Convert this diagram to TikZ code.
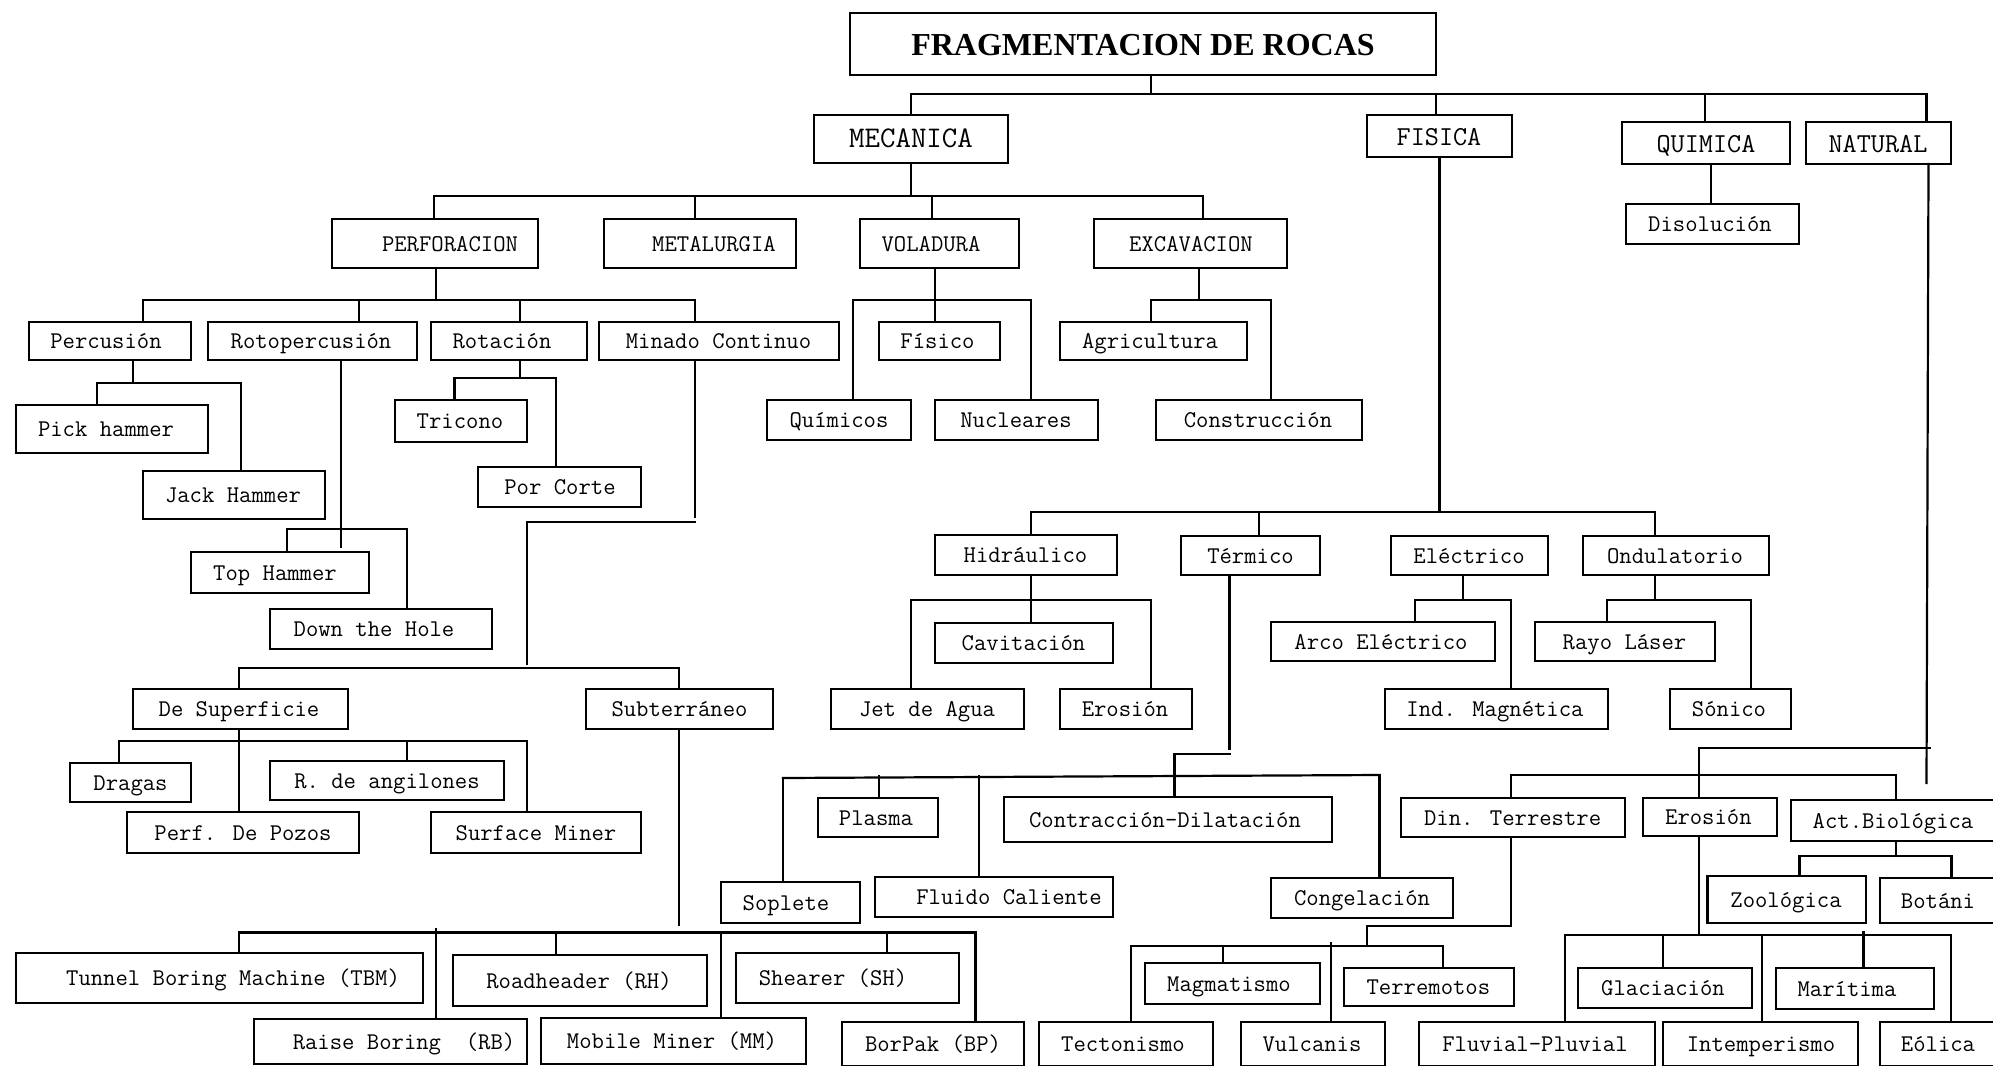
\documentclass[tikz,border=0pt]{standalone}
\usepackage{fontspec}
\newfontfamily\tserif{Liberation Serif}
\tikzset{
  box/.style={draw, line width=1.1pt, rectangle, inner sep=0pt, outer sep=0pt},
  ln/.style={line width=1.1pt, line cap=rect},
  f/.style={font={\ttfamily\fontsize{12pt}{14pt}\selectfont}, inner sep=0pt, anchor=base, yshift=-3.9pt},
  fm/.style={font={\ttfamily\fontsize{13.7pt}{15pt}\selectfont}, inner sep=0pt, anchor=base, yshift=-4.5pt},
  fl/.style={font={\ttfamily\fontsize{15pt}{17pt}\selectfont}, inner sep=0pt, anchor=base, yshift=-4.3pt},
  ft/.style={font={\tserif\bfseries\fontsize{16pt}{18pt}\selectfont}, inner sep=0pt, anchor=base, yshift=-5.5pt},
}
% name, x1, y1, x2, y2, text x, style, text
\newcommand\bx[8]{%
  \node[box, minimum width={(#4-#2)*0.5pt}, minimum height={(#5-#3)*0.5pt}] (#1) at ({(#2+#4)/2},{(#3+#5)/2}) {};
  \node[#7] (#1-t) at (#6,{(#3+#5)/2}) {#8};
}
\begin{document}
\begin{tikzpicture}[x=0.5pt,y=-0.5pt]
\useasboundingbox (0,0) rectangle (1993,1066);
\fill[white] (0,0) rectangle (1993,1066);
\clip (0,0) rectangle (1993,1066);

% ---------- boxes ----------
\bx{title}{850}{13}{1436}{75}{1143}{ft}{FRAGMENTACION DE ROCAS}
\bx{mec}{814}{115}{1008}{163}{911}{fl}{MECANICA}
\bx{fis}{1367}{115}{1512}{157}{1439}{fm}{FISICA}
\bx{qui}{1622}{122}{1790}{164}{1706}{fm}{QUIMICA}
\bx{nat}{1806}{122}{1951}{164}{1878}{fm}{NATURAL}
\bx{diso}{1626}{204}{1799}{244}{1710}{f}{Disolución}
\bx{perf}{332}{219}{538}{268}{450}{f}{PERFORACION}
\bx{meta}{604}{219}{796}{268}{714}{f}{METALURGIA}
\bx{vol}{860}{219}{1019}{268}{931}{f}{VOLADURA}
\bx{exc}{1094}{219}{1287}{268}{1191}{f}{EXCAVACION}
\bx{perc}{29}{322}{191}{360}{106}{f}{Percusión}
\bx{roto}{208}{322}{417}{360}{311}{f}{Rotopercusión}
\bx{rota}{431}{322}{587}{360}{502}{f}{Rotación}
\bx{mina}{599}{322}{839}{360}{718.5}{f}{Minado Continuo}
\bx{pick}{16}{405}{208}{453}{106}{f}{Pick hammer}
\bx{jack}{143}{471}{325}{519}{233}{f}{Jack Hammer}
\bx{top}{191}{552}{369}{593}{275}{f}{Top Hammer}
\bx{dth}{270}{609}{492}{649}{374}{f}{Down the Hole}
\bx{tric}{395}{400}{527}{442}{460}{f}{Tricono}
\bx{porc}{478}{467}{641}{507}{560}{f}{Por Corte}
\bx{fisico}{879}{322}{1000}{360}{937.5}{f}{Físico}
\bx{quim}{767}{400}{911}{440}{839}{f}{Químicos}
\bx{nucl}{935}{400}{1098}{440}{1016}{f}{Nucleares}
\bx{agri}{1060}{322}{1247}{360}{1150}{f}{Agricultura}
\bx{cons}{1156}{400}{1362}{440}{1258}{f}{Construcción}
\bx{hidr}{935}{535}{1117}{575}{1025.5}{f}{Hidráulico}
\bx{term}{1181}{536}{1320}{575}{1250.5}{f}{Térmico}
\bx{elec}{1391}{536}{1548}{575}{1469}{f}{Eléctrico}
\bx{ondu}{1583}{536}{1769}{575}{1675}{f}{Ondulatorio}
\bx{cavi}{935}{623}{1113}{663}{1023.5}{f}{Cavitación}
\bx{jet}{831}{689}{1024}{729}{927}{f}{Jet de Agua}
\bx{eroh}{1060}{689}{1192}{729}{1125}{f}{Erosión}
\bx{arco}{1271}{622}{1495}{661}{1381}{f}{Arco Eléctrico}
\bx{indm}{1385}{689}{1608}{729}{1495}{f}{Ind. Magnética}
\bx{rayo}{1535}{622}{1715}{661}{1624.5}{f}{Rayo Láser}
\bx{soni}{1670}{689}{1791}{729}{1729}{f}{Sónico}
\bx{desup}{133}{689}{348}{729}{239}{f}{De Superficie}
\bx{subt}{586}{689}{773}{729}{679.5}{f}{Subterráneo}
\bx{drag}{70}{763}{191}{802}{130.5}{f}{Dragas}
\bx{rang}{270}{761}{504}{800}{387}{f}{R. de angilones}
\bx{pozo}{127}{812}{359}{853}{243}{f}{Perf. De Pozos}
\bx{surf}{431}{812}{641}{853}{536}{f}{Surface Miner}
\bx{tbm}{16}{953}{423}{1003}{233}{f}{Tunnel Boring Machine (TBM)}
\bx{rb}{254}{1019}{527}{1064}{404}{f}{Raise Boring\ \ (RB)}
\bx{rh}{453}{955}{707}{1006}{579}{f}{Roadheader (RH)}
\bx{mm}{541}{1018}{806}{1064}{672}{f}{Mobile Miner (MM)}
\bx{sh}{736}{953}{959}{1003}{833}{f}{Shearer (SH)}
\bx{bp}{842}{1022}{1024}{1066}{933}{f}{BorPak (BP)}
\bx{plas}{818}{798}{938}{837}{876}{f}{Plasma}
\bx{cont}{1004}{797}{1332}{842}{1165}{f}{Contracción-Dilatación}
\bx{sopl}{721}{882}{860}{923}{786}{f}{Soplete}
\bx{flui}{875}{877}{1113}{917}{1009}{f}{Fluido Caliente}
\bx{cong}{1271}{878}{1453}{918}{1362}{f}{Congelación}
\bx{dint}{1401}{798}{1625}{837}{1512.6}{f}{Din. Terrestre}
\bx{eron}{1643}{798}{1777}{836}{1708.4}{f}{Erosión}
\bx{actb}{1791}{800}{2010}{841}{1893}{f}{Act.Biológica}
\bx{zool}{1707.5}{876}{1866}{923}{1786}{f}{Zoológica}
\bx{bota}{1880}{878}{2010}{923}{1938}{f}{Botáni}
\bx{magm}{1145}{963}{1320}{1004}{1229}{f}{Magmatismo}
\bx{terr}{1344}{968}{1514}{1006}{1428.4}{f}{Terremotos}
\bx{tect}{1039}{1022}{1213}{1066}{1123}{f}{Tectonismo}
\bx{vulc}{1241}{1022}{1385}{1066}{1312}{f}{Vulcanis}
\bx{glac}{1578}{968}{1752}{1008}{1663}{f}{Glaciación}
\bx{mari}{1776}{968}{1934}{1009}{1847}{f}{Marítima}
\bx{fluv}{1419}{1022}{1655}{1066}{1535}{f}{Fluvial-Pluvial}
\bx{inte}{1663}{1022}{1858}{1066}{1761}{f}{Intemperismo}
\bx{eoli}{1880}{1022}{2010}{1066}{1938}{f}{Eólica}

% ---------- connectors ----------
% title
\draw[ln] (title.south -| 1151,0) -- (1151,94);
\draw[ln] (911,94) -- (1926.5,94);
\foreach \n/\x in {mec/911,fis/1436,qui/1705,nat/1926.5} \draw[ln] (\x,94) -- (\n.north -| \x,0);
% quimica
\draw[ln] (qui.south -| 1711,0) -- (diso.north -| 1711,0);
% mecanica
\draw[ln] (mec.south -| 911,0) -- (911,196);
\draw[ln] (434,196) -- (1203,196);
\foreach \n/\x in {perf/434,meta/695,vol/932,exc/1203} \draw[ln] (\x,196) -- (\n.north -| \x,0);
% perforacion
\draw[ln] (perf.south -| 436,0) -- (436,300);
\draw[ln] (143,300) -- (695,300);
\foreach \n/\x in {perc/143,roto/359,rota/520,mina/695} \draw[ln] (\x,300) -- (\n.north -| \x,0);
% percusion
\draw[ln] (perc.south -| 133,0) -- (133,383);
\draw[ln] (97,383) -- (241,383);
\foreach \n/\x in {pick/97,jack/241} \draw[ln] (\x,383) -- (\n.north -| \x,0);
% rotopercusion
\draw[ln] (roto.south -| 341,0) -- (341,547);
\draw[ln] (287,529) -- (407,529);
\foreach \n/\x in {top/287,dth/407} \draw[ln] (\x,529) -- (\n.north -| \x,0);
% rotacion
\draw[ln] (rota.south -| 520,0) -- (520,378);
\draw[ln] (454.5,378) -- (556,378);
\foreach \n/\x in {tric/454.5,porc/556} \draw[ln] (\x,378) -- (\n.north -| \x,0);
% minado continuo
\draw[ln] (mina.south -| 695,0) -- (695,517);
\draw[ln] (695,522) -- (527,522) -- (527,664);
\draw[ln] (239,668) -- (679,668);
\foreach \n/\x in {desup/239,subt/679} \draw[ln] (\x,668) -- (\n.north -| \x,0);
% de superficie
\draw[ln] (desup.south -| 239,0) -- (pozo.north -| 239,0);
\draw[ln] (119,741) -- (527,741);
\foreach \n/\x in {drag/119,rang/407,surf/527} \draw[ln] (\x,741) -- (\n.north -| \x,0);
% subterraneo
\draw[ln] (subt.south -| 679,0) -- (679,925);
\draw[ln] (239,932.5) -- (975.5,932.5);
\foreach \n/\x in {tbm/239,rh/556,mm/721,sh/887,bp/975.5} \draw[ln] (\x,932.5) -- (\n.north -| \x,0);
\draw[ln] (436,929) -- (rb.north -| 436,0);
% voladura
\draw[ln] (vol.south -| 935,0) -- (935,300);
\draw[ln] (853,300) -- (1031,300);
\foreach \n/\x in {quim/853,fisico/935,nucl/1031} \draw[ln] (\x,300) -- (\n.north -| \x,0);
% excavacion
\draw[ln] (exc.south -| 1199,0) -- (1199,300);
\draw[ln] (1151,300) -- (1271,300);
\foreach \n/\x in {agri/1151,cons/1271} \draw[ln] (\x,300) -- (\n.north -| \x,0);
% fisica
\draw[ln] (fis.south -| 1439.5,0) -- (1439.5,512);
\draw[ln] (1031,512) -- (1655,512);
\foreach \n/\x in {hidr/1031,term/1259,ondu/1655} \draw[ln] (\x,512) -- (\n.north -| \x,0);
% hidraulico
\draw[ln] (hidr.south -| 1031,0) -- (cavi.north -| 1031,0);
\draw[ln] (911,600) -- (1151,600);
\foreach \n/\x in {jet/911,eroh/1151} \draw[ln] (\x,600) -- (\n.north -| \x,0);
% termico
\draw[ln] (term.south -| 1229.5,0) -- (1229.5,749);
\draw[ln] (1229.5,754) -- (1174.5,754) -- (cont.north -| 1174.5,0);
\draw[ln] (783,778) -- (1379.5,775);
\draw[ln] (783,778) -- (sopl.north -| 783,0);
\draw[ln] (879,776.5) -- (plas.north -| 879,0);
\draw[ln] (979,776.5) -- (flui.north -| 979,0);
\draw[ln] (1379.5,775) -- (cong.north -| 1379.5,0);
% electrico
\draw[ln] (elec.south -| 1463,0) -- (1463,600);
\draw[ln] (1415,600) -- (1511,600);
\foreach \n/\x in {arco/1415,indm/1511} \draw[ln] (\x,600) -- (\n.north -| \x,0);
% ondulatorio
\draw[ln] (ondu.south -| 1655,0) -- (1655,600);
\draw[ln] (1607,600) -- (1751,600);
\foreach \n/\x in {rayo/1607,soni/1751} \draw[ln] (\x,600) -- (\n.north -| \x,0);
% natural
\draw[ln] (nat.south -| 1928.5,0) -- (1926.5,783);
\draw[ln] (1930,748) -- (1699,748) -- (eron.north -| 1699,0);
\draw[ln] (1511,775) -- (1896,775);
\foreach \n/\x in {dint/1511,actb/1896} \draw[ln] (\x,775) -- (\n.north -| \x,0);
% act. biologica
\draw[ln] (actb.south -| 1896,0) -- (1896,856);
\draw[ln] (1799.5,856) -- (1951.5,856);
\foreach \n/\x in {zool/1799.5,bota/1951.5} \draw[ln] (\x,856) -- (\n.north -| \x,0);
% din. terrestre
\draw[ln] (dint.south -| 1511,0) -- (1511,926) -- (1367,926) -- (1367,946);
\draw[ln] (1131,946) -- (1443,946);
\foreach \n/\x in {tect/1131,magm/1223,terr/1443} \draw[ln] (\x,946) -- (\n.north -| \x,0);
\draw[ln] (1331,943) -- (vulc.north -| 1331,0);
% erosion (natural)
\draw[ln] (eron.south -| 1699,0) -- (1699,933);
\draw[ln] (1565,935) -- (1951,935);
\foreach \n/\x in {fluv/1565,glac/1663,inte/1762,eoli/1951} \draw[ln] (\x,935) -- (\n.north -| \x,0);
\draw[ln] (1863.5,932) -- (mari.north -| 1863.5,0);
\end{tikzpicture}
\end{document}
